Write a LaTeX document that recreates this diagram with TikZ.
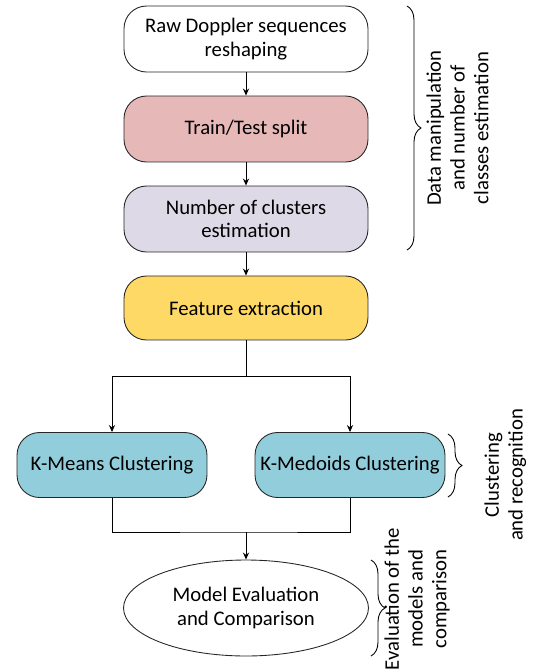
\documentclass[tikz,border=0pt]{standalone}
\usepackage{fontspec}
\setmainfont{Carlito}
\usetikzlibrary{arrows.meta, decorations.pathreplacing, shapes.geometric}

\definecolor{splitpink}{HTML}{E6B9B8}
\definecolor{countlav}{HTML}{DDD9E6}
\definecolor{featyellow}{HTML}{FFD966}
\definecolor{clustblue}{HTML}{92CDDC}

\tikzset{
  stagebox/.style={draw=black!85, rounded corners=0.45cm, align=center,
    minimum width=4.88cm, minimum height=1.32cm, inner sep=2pt},
  algobox/.style={stagebox, fill=clustblue, minimum width=3.8cm, minimum height=1.3cm},
  flow/.style={-{Stealth[length=4pt, width=3.5pt]}},
  bracedeco/.style={decorate, decoration={brace, amplitude=0.28cm}},
  sidenote/.style={rotate=90, align=center, inner sep=0pt, anchor=north},
}

\begin{document}
\begin{tikzpicture}[x=0.02cm, y=-0.02cm, font=\fontsize{11.8}{13.5}\selectfont, line width=0.5pt]

\useasboundingbox (0,0) rectangle (536,670);

% pipeline stages
\node[stagebox, fill=white] (raw) at (246,39) {Raw Doppler sequences\\reshaping};
\node[stagebox, fill=splitpink] (split) at (246,129) {Train/Test split};
\node[stagebox, fill=countlav] (count) at (246,219) {Number of clusters\\estimation};
\node[stagebox, fill=featyellow, minimum height=1.28cm] (feat) at (246,308) {Feature extraction};

% clustering
\node[algobox] (kmeans) at (112,465) {K-Means Clustering};
\node[algobox] (kmedoids) at (350,465) {K-Medoids Clustering};

% evaluation
\node[draw=black!85, ellipse, minimum width=4.9cm, minimum height=1.92cm,
  align=center, inner sep=0pt] (eval) at (246,608) {Model Evaluation\\and Comparison};

% connectors
\coordinate (fork) at (246,376);
\coordinate (join) at (246,532);
\draw[flow] (raw) -- (split);
\draw[flow] (split) -- (count);
\draw[flow] (count) -- (feat);
\draw (feat) -- (fork);
\draw[flow] (fork) -| (kmeans);
\draw[flow] (fork) -| (kmedoids);
\draw (kmeans) |- (join) -| (kmedoids);
\draw[flow] (join) -- (eval);

% phase braces
\draw[bracedeco] (407,6) -- (407,250);
\node[sidenote] (datanote) at (426,128) {Data manipulation\\and number of\\classes estimation};

\draw[bracedeco] (448,434) -- (448,497);
\node[sidenote] (clustnote) at (484,475) {Clustering\\and recognition};

\draw[bracedeco] (371,560) -- (371,656);
\node[sidenote] (evalnote) at (384,599) {Evaluation of the\\models and\\comparison};

\end{tikzpicture}
\end{document}
